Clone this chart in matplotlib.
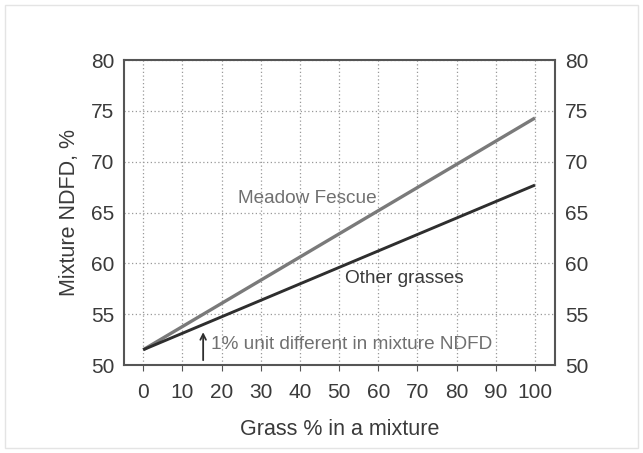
import matplotlib.pyplot as plt
from matplotlib.patches import Rectangle

plt.rcParams['font.family'] = ['Liberation Sans', 'DejaVu Sans']

# grass share in the mixture and the resulting NDFD
grass_pct = [0, 100]
meadow_fescue = [51.5, 74.3]
other_grasses = [51.5, 67.7]
x_ticks = [0, 10, 20, 30, 40, 50, 60, 70, 80, 90, 100]
y_ticks = [50, 55, 60, 65, 70, 75, 80]

fig = plt.figure(figsize=(6.43, 4.53), dpi=100)
fig.patches.append(Rectangle((0.008, 0.011), 0.984, 0.978, transform=fig.transFigure,
                             fill=False, edgecolor='#e4e4e4', linewidth=1))
ax = fig.add_axes([124 / 643, 1 - 365 / 453, (555 - 124) / 643, (365 - 60) / 453])

ax.plot(grass_pct, meadow_fescue, color='#7a7a7a', linewidth=2.4, solid_capstyle='butt')
ax.plot(grass_pct, other_grasses, color='#2e2e2e', linewidth=2.1, solid_capstyle='butt')

ax.set_xlim(-4.9, 105.1)
ax.set_ylim(50, 80)
ax.set_xticks(x_ticks)
ax.set_yticks(y_ticks)
ax.grid(True, linestyle=(0, (1, 2)), color='#999999', linewidth=0.9)

for s in ax.spines.values():
    s.set_color('#555555')
    s.set_linewidth(1.5)

ax.tick_params(axis='x', direction='out', length=4, color='#555555', pad=9,
               labelsize=15, labelcolor='#3a3a3a')
ax.tick_params(axis='y', length=0, pad=7, labelsize=15, labelcolor='#3a3a3a',
               right=True, labelright=True)

ax.set_xlabel('Grass % in a mixture', fontsize=15.5, color='#3a3a3a', labelpad=12)
ax.set_ylabel('Mixture NDFD, %', fontsize=15.5, color='#3a3a3a', labelpad=8)

ax.text(42, 66.4, 'Meadow Fescue', fontsize=13.7, color='#707070', ha='center', va='center')
ax.text(66.6, 58.5, 'Other grasses', fontsize=13.7, color='#3a3a3a', ha='center', va='center')
ax.annotate('', xy=(15.3, 53.5), xytext=(15.3, 50.2),
            arrowprops=dict(arrowstyle='->', color='#2e2e2e', lw=1.3))
ax.text(17.3, 52.0, '1% unit different in mixture NDFD', fontsize=13.7, color='#707070',
        ha='left', va='center')

fig.savefig('out.png', dpi=100)
